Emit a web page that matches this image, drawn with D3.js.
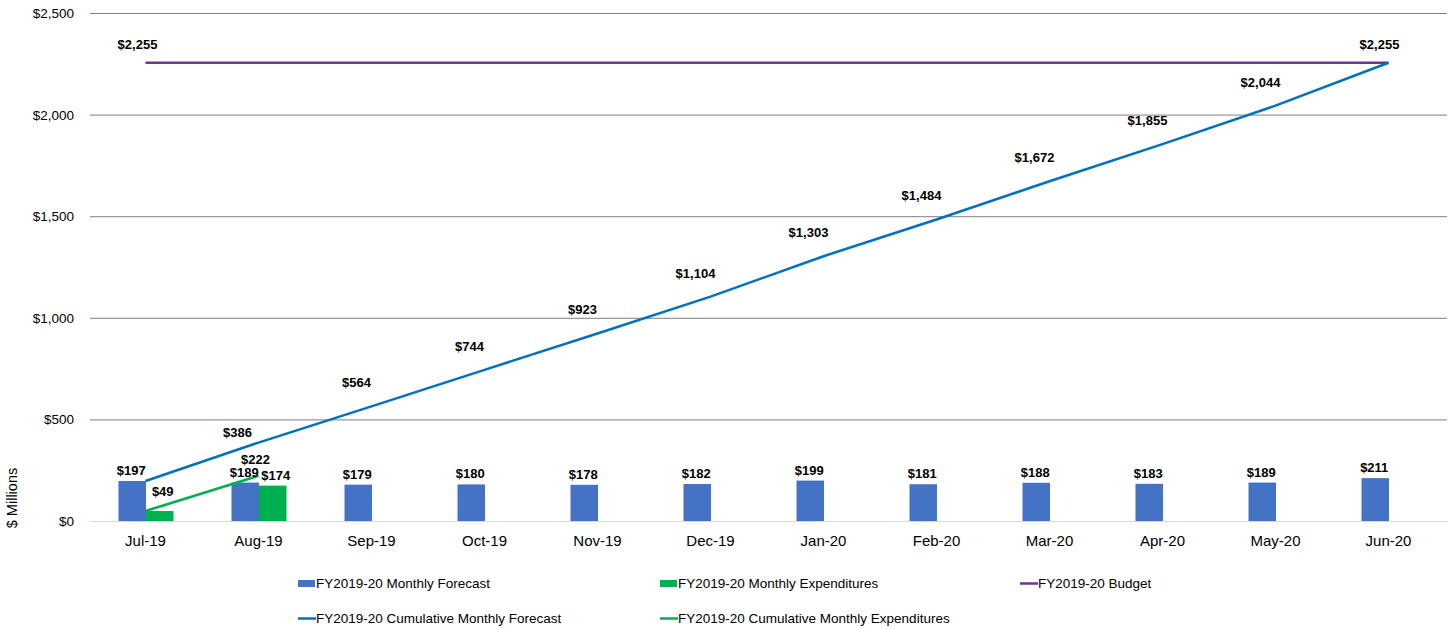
<!DOCTYPE html>
<html>
<head>
<meta charset="utf-8">
<script src="https://cdn.jsdelivr.net/npm/d3@7"></script>
<style>
  body { margin: 0; background: #fff; }
  text { font-family: "Liberation Sans", Arial, sans-serif; }
</style>
</head>
<body>
<svg id="chart" width="1448" height="629"></svg>
<script>
// chart values
var months = ["Jul-19", "Aug-19", "Sep-19", "Oct-19", "Nov-19", "Dec-19", "Jan-20", "Feb-20", "Mar-20", "Apr-20", "May-20", "Jun-20"];
var monthlyForecast = [197, 189, 179, 180, 178, 182, 199, 181, 188, 183, 189, 211];
var monthlyExpend = [49, 174];
var cumForecast = [197, 386, 564, 744, 923, 1104, 1303, 1484, 1672, 1855, 2044, 2255];
var cumExpend = [49, 222];
var budget = [2255, 2255, 2255, 2255, 2255, 2255, 2255, 2255, 2255, 2255, 2255, 2255];
var yTicks = [0, 500, 1000, 1500, 2000, 2500];

(function() {
  var svg = d3.select("#chart");
  var left = 89, right = 1445, top = 13, bottom = 521;

  var x = d3.scaleBand().domain(months).range([left, right]);
  var bw = x.bandwidth();
  var xs = d3.scaleBand().domain(["f", "e"]).range([bw / 2 - 27, bw / 2 + 28]);
  var y = d3.scaleLinear().domain([0, 2500]).range([bottom, top]);
  var cx = function(m) { return x(m) + bw / 2; };
  var fmt = function(v) { return "$" + d3.format(",")(v); };

  // gridlines
  svg.append("g").selectAll("line")
    .data(yTicks).join("line")
      .attr("x1", 90).attr("x2", 1447)
      .attr("y1", d => y(d) + 0.5).attr("y2", d => y(d) + 0.5)
      .attr("stroke", d => d === 0 ? "#d9d9d9" : "#7f7f7f")
      .attr("stroke-width", 1);

  // y axis labels
  svg.append("g").selectAll("text")
    .data(yTicks).join("text")
      .attr("x", 74).attr("y", d => y(d) + 5)
      .attr("text-anchor", "end")
      .style("font-size", "13.5px").style("fill", "#000")
      .text(d => fmt(d));

  svg.append("text")
    .attr("transform", "translate(17,498) rotate(-90)")
    .attr("text-anchor", "middle")
    .style("font-size", "14.5px")
    .text("$ Millions");

  // x labels
  svg.append("g").selectAll("text")
    .data(months).join("text")
      .attr("x", d => cx(d)).attr("y", 546)
      .attr("text-anchor", "middle")
      .style("font-size", "15px")
      .text(d => d);

  // bars
  svg.append("g").selectAll("rect")
    .data(monthlyForecast).join("rect")
      .attr("x", (d, i) => x(months[i]) + xs("f"))
      .attr("width", xs.bandwidth())
      .attr("y", d => y(d))
      .attr("height", d => y(0) - y(d))
      .attr("fill", "#4472c4");

  svg.append("g").selectAll("rect")
    .data(monthlyExpend).join("rect")
      .attr("x", (d, i) => x(months[i]) + xs("e"))
      .attr("width", xs.bandwidth())
      .attr("y", d => y(d))
      .attr("height", d => y(0) - y(d))
      .attr("fill", "#00b050");

  // lines
  var line = d3.line().x((d, i) => cx(months[i])).y(d => y(d));

  svg.append("path").datum(budget)
    .attr("d", line).attr("fill", "none")
    .attr("stroke", "#7030a0").attr("stroke-width", 2.5);

  svg.append("path").datum(cumForecast)
    .attr("d", line).attr("fill", "none")
    .attr("stroke", "#0070c0").attr("stroke-width", 2.5);

  svg.append("path").datum(cumExpend)
    .attr("d", line).attr("fill", "none")
    .attr("stroke", "#00b050").attr("stroke-width", 2.5);

  // labels
  var lab = svg.append("g").style("font-size", "13px").style("font-weight", "bold");

  lab.selectAll(".bf")
    .data(monthlyForecast).join("text")
      .attr("x", (d, i) => x(months[i]) + xs("f") + xs.bandwidth() / 2 - 1)
      .attr("y", d => y(d) - 6)
      .attr("text-anchor", "middle")
      .text(d => fmt(d));

  lab.selectAll(".be")
    .data(monthlyExpend).join("text")
      .attr("x", (d, i) => x(months[i]) + xs("e") + xs.bandwidth() / 2 + 3)
      .attr("y", (d, i) => y(d) - (i === 0 ? 15 : 6))
      .attr("text-anchor", "middle")
      .text(d => fmt(d));

  lab.selectAll(".cf")
    .data(cumForecast).join("text")
      .filter((d, i) => i > 0)
      .attr("x", (d, i) => cx(months[i + 1]) - (i === 10 ? 9 : (i === 0 ? 21 : 15)))
      .attr("y", (d, i) => y(d) - (i === 0 ? 6 : (i === 10 ? 14 : 19)))
      .attr("text-anchor", "middle")
      .text(d => fmt(d));

  lab.selectAll(".ce")
    .data(cumExpend).join("text")
      .filter((d, i) => i > 0)
      .attr("x", (d, i) => cx(months[i + 1]) - 3)
      .attr("y", d => y(d) - 12)
      .attr("text-anchor", "middle")
      .text(d => fmt(d));

  lab.append("text")
    .attr("x", cx(months[0]) - 8).attr("y", y(budget[0]) - 14)
    .attr("text-anchor", "middle")
    .text(fmt(budget[0]));

  // legend
  var legendItems = [
    {name: "FY2019-20 Monthly Forecast", color: "#4472c4", type: "rect", x: 298, y: 583},
    {name: "FY2019-20 Monthly Expenditures", color: "#00b050", type: "rect", x: 660, y: 583},
    {name: "FY2019-20 Budget", color: "#7030a0", type: "line", x: 1020, y: 583},
    {name: "FY2019-20 Cumulative Monthly Forecast", color: "#0070c0", type: "line", x: 298, y: 618},
    {name: "FY2019-20 Cumulative Monthly Expenditures", color: "#00b050", type: "line", x: 660, y: 618}
  ];
  var lg = svg.append("g").selectAll("g")
    .data(legendItems).join("g")
      .attr("transform", d => "translate(" + d.x + "," + d.y + ")");
  lg.filter(d => d.type === "rect").append("rect")
    .attr("x", 0).attr("y", -3).attr("width", 17).attr("height", 7)
    .attr("fill", d => d.color);
  lg.filter(d => d.type === "line").append("line")
    .attr("x1", 0).attr("x2", 18).attr("y1", 0.5).attr("y2", 0.5)
    .attr("stroke", d => d.color).attr("stroke-width", 2.5);
  lg.append("text")
    .attr("x", 18).attr("y", 5)
    .style("font-size", "13.5px")
    .text(d => d.name);
})();
</script>
</body>
</html>
